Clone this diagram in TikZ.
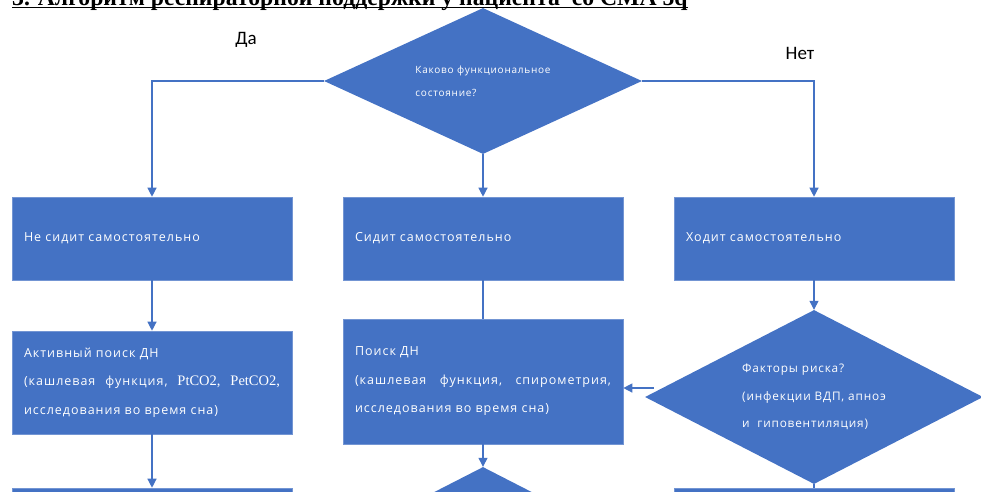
\documentclass[tikz,border=0pt]{standalone}
\usepackage{fontspec}
\setmainfont{Liberation Serif}
\newfontfamily\boxfont[LetterSpace=8]{Open Sans}
\newfontfamily\qfont[LetterSpace=7.5]{Open Sans}
\newfontfamily\riskfont[LetterSpace=7]{Open Sans}
\newfontfamily\yesnofont{Carlito}
\newfontfamily\formfont{Liberation Serif}
\usetikzlibrary{shapes.geometric,arrows.meta}
\definecolor{ofblue}{HTML}{4472C4}
\tikzset{
  blok/.style={rectangle, fill=ofblue, draw=ofblue!75!white, line width=0.6pt,
    text=white, minimum width=280pt, minimum height=83pt, inner sep=0pt,
    text width=256pt, align=left, font=\boxfont\fontsize{12.5}{28.5}\selectfont},
  romb/.style={diamond, shape aspect=2.2, fill=ofblue, text=white,
    inner sep=0pt, align=left},
  strel/.style={draw=ofblue, line width=1.2pt, -{Triangle[width=9pt,length=9pt]}},
  liniya/.style={draw=ofblue, line width=1.2pt},
}
\begin{document}
\begin{tikzpicture}[x=1pt, y=-1pt]
        \useasboundingbox (0, 0) rectangle (981, 491);
        \clip (0, 0) rectangle (981, 491);

        % заголовок
        \node[anchor=base west, inner sep=0pt, font=\bfseries\fontsize{23.7}{26}\selectfont] (title) at (12, 5)
            {3. Алгоритм респираторной поддержки у пациента~ со СМА 5q};
        \draw[line width=1.6pt] ([yshift=-2.5pt]title.base west) -- ([yshift=-2.5pt]title.base east);

        % вопрос
        \node[romb, minimum width=318pt, minimum height=146pt,
              font=\qfont\fontsize{10}{23}\selectfont] (q) at (483, 81)
            {Каково функциональное\\состояние?};
        \node[font=\yesnofont\fontsize{19}{22}\selectfont] (da) at (246, 40) {Да};
        \node[font=\yesnofont\fontsize{19}{22}\selectfont] (net) at (800, 53) {Нет};

        % первый ряд
        \node[blok] (nesit) at (152, 238.5) {Не сидит самостоятельно};
        \node[blok] (sit) at (483, 238.5) {Сидит самостоятельно};
        \node[blok] (walk) at (814, 238.5) {Ходит самостоятельно};

        % второй ряд
        \node[blok, minimum height=103pt] (active) at (152, 382.5)
            {Активный поиск ДН\\
             \makebox[256pt][l]{(кашлевая\hfill функция,\hfill {\formfont\fontsize{14.5}{28.5}\selectfont PtCO2,}\hfill{\formfont\fontsize{14.5}{28.5}\selectfont PetCO2,}}\\
             исследования во время сна)};
        \node[blok, minimum height=125pt] (search) at (483, 381.5)
            {Поиск ДН\\
             \makebox[256pt][l]{(кашлевая\hfill функция,\hfill спирометрия,}\\
             исследования во время сна)};
        \node[romb, shape aspect=2, minimum width=338pt, minimum height=174pt,
              font=\riskfont\fontsize{11.8}{27.5}\selectfont] (risk) at (814, 397)
            {Факторы риска?\\(инфекции ВДП, апноэ\\и~ гиповентиляция)};

        % третий ряд
        \node[blok] (left3) at (152, 529.5) {};
        \node[romb, minimum width=320pt, minimum height=164pt] (mid3) at (483, 549) {};
        \node[blok] (right3) at (814, 529.5) {};

        % стрелки
        \draw[strel] (q.west) -| (nesit.north);
        \draw[strel] (q.east) -| (walk.north);
        \draw[strel] (q.south) -- (sit.north);
        \draw[strel] (nesit.south) -- (active.north);
        \draw[strel] (active.south) -- (left3.north);
        \draw[liniya] (sit.south) -- (search.north);
        \draw[strel] (search.south) -- (mid3.north);
        \draw[strel] (walk.south) -- (risk.north);
        \path (risk.west) ++(9, -9) coordinate (rw);
        \draw[strel] (rw) -- (rw -| search.east);
        \draw[liniya] (risk.south) -- (right3.north);
\end{tikzpicture}
\end{document}
